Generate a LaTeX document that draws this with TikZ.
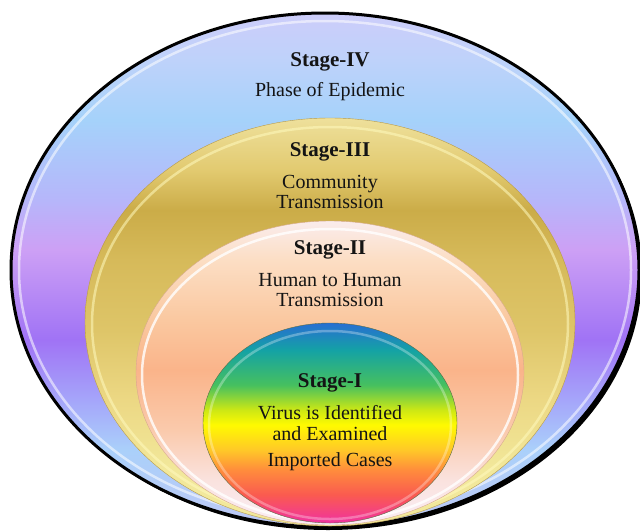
\documentclass[tikz,border=0pt]{standalone}
\usepackage{fontspec}
\setmainfont{Liberation Serif}
\usepackage{tikz}

\definecolor{lavtop}{RGB}{205,205,250}
\definecolor{lavsky}{RGB}{190,210,250}
\definecolor{skyblue}{RGB}{165,210,250}
\definecolor{lavmid}{RGB}{182,182,250}
\definecolor{lavpink}{RGB}{205,160,245}
\definecolor{violet}{RGB}{160,115,245}
\definecolor{lavlow}{RGB}{165,165,250}
\definecolor{skylow}{RGB}{170,208,250}
\definecolor{lavbot}{RGB}{190,200,245}

\definecolor{goldtop}{RGB}{238,224,155}
\definecolor{goldlt}{RGB}{226,202,112}
\definecolor{golddk}{RGB}{203,172,72}
\definecolor{goldmd}{RGB}{214,186,90}
\definecolor{goldmd2}{RGB}{222,197,104}
\definecolor{goldpl}{RGB}{236,216,132}
\definecolor{goldbt}{RGB}{242,232,155}
\definecolor{goldedge}{RGB}{185,155,70}
\definecolor{goldrim}{RGB}{255,250,190}

\definecolor{peachtop}{RGB}{250,236,236}
\definecolor{peachlt}{RGB}{252,222,196}
\definecolor{peachmd}{RGB}{250,200,160}
\definecolor{peachdk}{RGB}{250,180,138}
\definecolor{peachlo}{RGB}{250,202,172}
\definecolor{peachpl}{RGB}{250,226,222}
\definecolor{peachbt}{RGB}{250,238,246}
\definecolor{peachedge}{RGB}{215,170,140}

\definecolor{rbblue}{RGB}{40,110,210}
\definecolor{rbteal}{RGB}{20,162,165}
\definecolor{rbgreen}{RGB}{70,192,95}
\definecolor{rblime}{RGB}{205,232,20}
\definecolor{rbyellow}{RGB}{255,250,0}
\definecolor{rbamber}{RGB}{255,200,40}
\definecolor{rborange}{RGB}{255,140,60}
\definecolor{rbred}{RGB}{250,90,80}
\definecolor{rbpink}{RGB}{240,50,160}
\definecolor{rbedge}{RGB}{90,110,70}

\definecolor{inktext}{RGB}{20,20,20}

\pgfdeclareverticalshading{stagefour}{100bp}{color(0bp)=(lavbot); color(25bp)=(lavbot);
  color(32.5bp)=(skylow); color(37.4bp)=(lavlow); color(43.2bp)=(violet);
  color(52bp)=(lavpink); color(56.8bp)=(lavmid); color(64.6bp)=(skyblue);
  color(70.4bp)=(lavsky); color(75bp)=(lavtop); color(100bp)=(lavtop)}
\pgfdeclareverticalshading{stagethree}{100bp}{color(0bp)=(goldbt); color(25bp)=(goldbt);
  color(31.9bp)=(goldbt); color(40.4bp)=(goldpl); color(49bp)=(goldmd2);
  color(57.6bp)=(goldmd); color(63.7bp)=(golddk); color(68.6bp)=(goldlt);
  color(75bp)=(goldtop); color(100bp)=(goldtop)}
\pgfdeclareverticalshading{stagetwo}{100bp}{color(0bp)=(peachbt); color(25bp)=(peachbt);
  color(32.4bp)=(peachpl); color(40.6bp)=(peachlo); color(50.5bp)=(peachdk);
  color(58.7bp)=(peachmd); color(68.6bp)=(peachlt); color(75bp)=(peachtop);
  color(100bp)=(peachtop)}
\pgfdeclareverticalshading{stageone}{100bp}{color(0bp)=(rbpink); color(25bp)=(rbpink);
  color(32bp)=(rbred); color(38.25bp)=(rborange); color(43.25bp)=(rbamber);
  color(49.5bp)=(rbyellow); color(53.25bp)=(rblime); color(59.5bp)=(rbgreen);
  color(68.25bp)=(rbteal); color(75bp)=(rbblue); color(100bp)=(rbblue)}

\tikzset{
  stagetitle/.style={font=\fontsize{21}{22}\selectfont\bfseries, text=inktext},
  stagetext/.style={font=\fontsize{20}{20.5}\selectfont, text=inktext, align=center},
  rim/.style={white, opacity=0.55, line width=2.5pt}
}

\begin{document}
\begin{tikzpicture}[x=1pt,y=-1pt]
	\useasboundingbox (0,0) rectangle (640,531);
	\fill[white] (0,0) rectangle (640,531);
	% outer ring with its shadow
	\fill[black] (328,273) ellipse (314 and 257);
	\shade[shading=stagefour] (325,270) ellipse (314 and 257);
	\draw[black, line width=3pt] (325,270) ellipse (314 and 257);
	\draw[rim] (325,270) ellipse (306 and 249);
	% rings inside
	\shade[shading=stagethree, draw=goldedge, thin] (330,322) ellipse (245 and 204);
	\draw[rim, goldrim] (330,324) ellipse (238 and 197);
	\shade[shading=stagetwo, draw=peachedge, thin] (330,373) ellipse (194 and 152);
	\draw[rim, opacity=0.8] (330,375) ellipse (188 and 146);
	\shade[shading=stageone, draw=rbedge, thin] (330,423) ellipse (127 and 100);
	\draw[rim, opacity=0.3] (330,425) ellipse (121 and 94);
	% labels
	\node[stagetitle] (titlefour) at (330,62) {Stage-IV};
	\node[stagetext] (textfour) at (330,92) {Phase of Epidemic};
	\node[stagetitle] (titlethree) at (330,152) {Stage-III};
	\node[stagetext] (textthree) at (330,192) {Community\\Transmission};
	\node[stagetitle] (titletwo) at (330,250) {Stage-II};
	\node[stagetext] (texttwo) at (330,290) {Human to Human\\Transmission};
	\node[stagetitle] (titleone) at (330,383) {Stage-I};
	\node[stagetext] (textone) at (330,423) {Virus is Identified\\and Examined};
	\node[stagetext] (textcases) at (330,462) {Imported Cases};
\end{tikzpicture}
\end{document}
